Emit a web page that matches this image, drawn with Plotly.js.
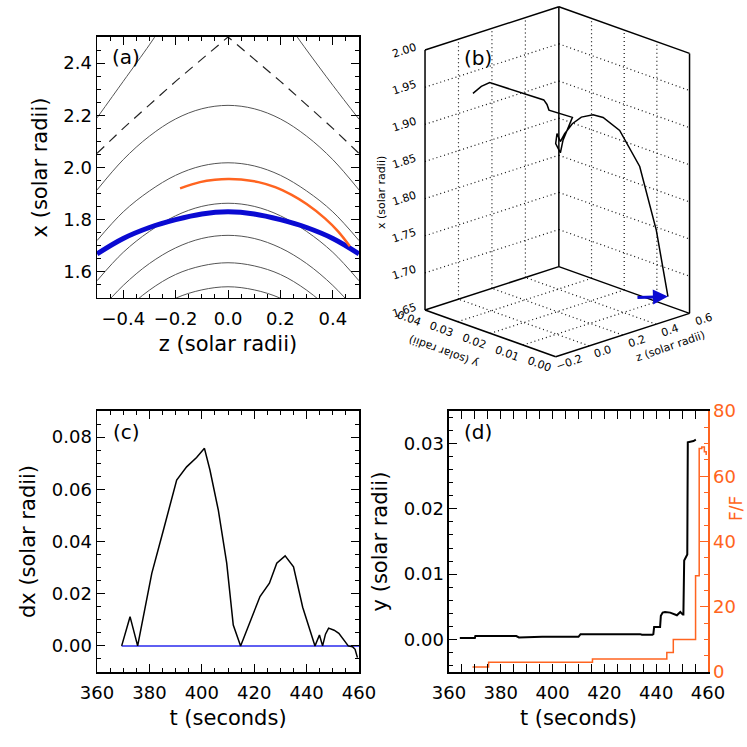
<!DOCTYPE html>
<html>
<head>
<meta charset="utf-8">
<script src="https://cdn.plot.ly/plotly-3.0.1.min.js"></script>
<style>
  html, body { margin: 0; padding: 0; background: #fff; }
  #plot { width: 747px; height: 747px; }
</style>
</head>
<body>
<div id="plot"></div>
<script>
// colours
var cOrange = '#ff6420';
var cBlue = '#0a0ad2';
var cLine = '#555555';

// ---- panel (a): field lines in the z-x plane ----
var zGrid = [-0.5, -0.4, -0.3, -0.2, -0.1, 0.0, 0.1, 0.2, 0.3, 0.4, 0.5];
var fieldA = [1.914, 2.03, 2.12, 2.186, 2.225, 2.238, 2.225, 2.186, 2.12, 2.03, 1.914];
var fieldB = [1.72, 1.83, 1.91, 1.97, 2.006, 2.018, 2.006, 1.97, 1.91, 1.83, 1.72];
var fieldC = [1.566, 1.675, 1.755, 1.815, 1.851, 1.863, 1.851, 1.815, 1.755, 1.675, 1.566];
var fieldD = [1.44, 1.548, 1.632, 1.692, 1.728, 1.74, 1.728, 1.692, 1.632, 1.548, 1.44];
var fieldE = [1.34, 1.445, 1.53, 1.59, 1.623, 1.635, 1.623, 1.59, 1.53, 1.445, 1.34];
var fieldF = [1.25, 1.35, 1.44, 1.499, 1.531, 1.543, 1.531, 1.499, 1.44, 1.35, 1.25];
var dashX = [2.054, 2.15, 2.24, 2.33, 2.415, 2.5, 2.415, 2.33, 2.24, 2.15, 2.054];
var sepLeftZ = [-0.5, -0.4, -0.3, -0.26];
var sepLeftX = [2.19, 2.33, 2.47, 2.53];
var sepRightZ = [0.25, 0.3, 0.4, 0.5];
var sepRightX = [2.52, 2.45, 2.315, 2.185];
var blueX = [1.669, 1.728, 1.77, 1.80, 1.822, 1.83, 1.822, 1.80, 1.77, 1.728, 1.669];
var orangeZ = [-0.183, -0.107, -0.05, 0.0, 0.05, 0.116, 0.18, 0.243, 0.3, 0.37, 0.42, 0.465];
var orangeX = [1.92, 1.944, 1.953, 1.956, 1.954, 1.944, 1.925, 1.895, 1.86, 1.805, 1.755, 1.698];

// ---- panel (b): 3D path (z, y, x in solar radii) ----
var pathZ = [0.471, 0.411, 0.312, 0.194, 0.099, 0.039, -0.031, -0.085, -0.131, -0.135, -0.122, -0.122, -0.090, -0.082, -0.022, -0.006, -0.008, 0.002, -0.003, -0.049, -0.097];
var pathY = [0, 0.0005, 0.0005, 0.0006, 0.0008, 0.0008, 0.0008, 0.0008, 0.0008, 0.0019, 0.0036, 0.004, 0.0042, 0.0038, 0.004, 0.012, 0.0125, 0.014, 0.0303, 0.0305, 0.0306];
var pathX = [1.682, 1.775, 1.868, 1.925, 1.949, 1.957, 1.959, 1.954, 1.944, 1.932, 1.939, 1.925, 1.910, 1.927, 1.953, 1.949, 1.956, 1.959, 1.957, 1.955, 1.949];
var zTicks3 = [-0.2, 0.0, 0.2, 0.4, 0.6];
var yTicks3 = [0.00, 0.01, 0.02, 0.03, 0.04];
var xTicks3 = [1.65, 1.70, 1.75, 1.80, 1.85, 1.90, 1.95, 2.00];

// ---- panel (c): dx vs time ----
var tC = [369.4, 372.6, 375.5, 380.9, 385.5, 390.4, 394.2, 398, 401, 403.1, 406.3, 409.5, 412, 414.8, 422.2, 425.8, 428.6, 431.8, 435, 438.5, 443.2, 444.9, 446.1, 447.2, 448.4, 450.5, 452.3, 454, 455.9, 457.5, 458.5, 459.4];
var dxC = [0, 0.0112, 0, 0.0278, 0.045, 0.0635, 0.0686, 0.0722, 0.0757, 0.0674, 0.052, 0.0317, 0.008, 0, 0.0189, 0.024, 0.0317, 0.0345, 0.0303, 0.0148, 0, 0.0042, 0, 0.0045, 0.0068, 0.006, 0.0048, 0.0023, 0, -0.0003, -0.0013, -0.0045];
var tZero = [369.4, 460];
var dxZero = [0, 0];

// ---- panel (d): y and F vs time ----
var tY = [364.2, 370, 370.2, 386, 387, 396, 410, 410.8, 433.8, 434.5, 438.5, 438.9, 439.2, 441.5, 441.8, 442.5, 443.4, 445.4, 448, 449.3, 450.3, 450.5, 450.8, 451.6, 452, 452.2, 454.4, 455.3];
var yY = [0.0002, 0.0002, 0.0005, 0.0005, 0.0003, 0.0004, 0.0004, 0.0008, 0.0008, 0.0007, 0.0007, 0.0008, 0.0019, 0.0019, 0.0036, 0.0041, 0.0042, 0.0041, 0.0037, 0.0042, 0.0038, 0.0038, 0.0121, 0.0129, 0.0130, 0.0302, 0.0304, 0.0306];
var tF = [369.1, 375.3, 415.4, 444.1, 446.6, 455.2, 456.6, 457.6, 458.6, 459.3];
var fF = [1.5, 3, 4, 6, 10, 29.5, 68.5, 69, 67.5, 66.5];

// oblique projection of panel (b) onto a pixel-unit 2D axis
function proj(z, y, x) {
  return [555.7 + 167.3 * (z + 0.2) - 3267 * y,
          356.7 - 54.2 * (z + 0.2) - 1167 * y - 742.7 * (x - 1.65)];
}
function segTrace(segs, line) {
  var xs = [], ys = [];
  segs.forEach(function (s) {
    var a = proj(s[0], s[1], s[2]), b = proj(s[3], s[4], s[5]);
    xs.push(a[0], b[0], null); ys.push(a[1], b[1], null);
  });
  return {x: xs, y: ys, xaxis: 'x4', yaxis: 'y5', type: 'scatter', mode: 'lines', line: line, hoverinfo: 'skip'};
}

var zMin = zTicks3[0], zMax = zTicks3[zTicks3.length - 1];
var yMin = yTicks3[0], yMax = yTicks3[yTicks3.length - 1];
var xMin = xTicks3[0], xMax = xTicks3[xTicks3.length - 1];

var boxSegs = [
  [zMin, yMax, xMin, zMin, yMax, xMax], [zMax, yMax, xMin, zMax, yMax, xMax], [zMax, yMin, xMin, zMax, yMin, xMax],
  [zMin, yMax, xMax, zMax, yMax, xMax], [zMax, yMax, xMax, zMax, yMin, xMax],
  [zMin, yMin, xMin, zMax, yMin, xMin], [zMin, yMin, xMin, zMin, yMax, xMin],
  [zMin, yMax, xMin, zMax, yMax, xMin], [zMax, yMin, xMin, zMax, yMax, xMin]
];
var gridSegs = [];
zTicks3.slice(1, -1).forEach(function (z) {
  gridSegs.push([z, yMax, xMin, z, yMax, xMax]);
  gridSegs.push([z, yMin, xMin, z, yMax, xMin]);
});
yTicks3.slice(1, -1).forEach(function (y) {
  gridSegs.push([zMax, y, xMin, zMax, y, xMax]);
  gridSegs.push([zMin, y, xMin, zMax, y, xMin]);
});
xTicks3.slice(1, -1).forEach(function (x) {
  gridSegs.push([zMin, yMax, x, zMax, yMax, x]);
  gridSegs.push([zMax, yMax, x, zMax, yMin, x]);
});

var pathS = pathZ.map(function (z, i) { return proj(z, pathY[i], pathX[i]); });

function fieldTrace(xs, ys, extra) {
  var t = {x: xs, y: ys, xaxis: 'x', yaxis: 'y', type: 'scatter', mode: 'lines',
    line: {color: cLine, width: 1, shape: 'spline'}, hoverinfo: 'skip'};
  for (var k in extra) t[k] = extra[k];
  return t;
}

var data = [
  fieldTrace(zGrid, fieldA), fieldTrace(zGrid, fieldB), fieldTrace(zGrid, fieldC),
  fieldTrace(zGrid, fieldD), fieldTrace(zGrid, fieldE), fieldTrace(zGrid, fieldF),
  fieldTrace(zGrid, dashX, {line: {color: '#222', width: 1.2, dash: '10px,7px'}}),
  fieldTrace(sepLeftZ, sepLeftX), fieldTrace(sepRightZ, sepRightX),
  fieldTrace(zGrid, blueX, {line: {color: cBlue, width: 5, shape: 'spline'}}),
  fieldTrace(orangeZ, orangeX, {line: {color: cOrange, width: 2.5, shape: 'spline'}}),
  segTrace(gridSegs, {color: '#111', width: 1.2, dash: '1px,3px'}),
  segTrace(boxSegs, {color: 'black', width: 1.5}),
  {x: pathS.map(function (p) { return p[0]; }), y: pathS.map(function (p) { return p[1]; }),
    xaxis: 'x4', yaxis: 'y5', type: 'scatter', mode: 'lines', line: {color: 'black', width: 1.5}},
  {x: tZero, y: dxZero, xaxis: 'x2', yaxis: 'y2', type: 'scatter', mode: 'lines',
    line: {color: '#2a2aee', width: 1.5}},
  {x: tC, y: dxC, xaxis: 'x2', yaxis: 'y2', type: 'scatter', mode: 'lines',
    line: {color: 'black', width: 1.5}},
  {x: tF, y: fF, xaxis: 'x3', yaxis: 'y4', type: 'scatter', mode: 'lines',
    line: {color: cOrange, width: 1.5, shape: 'hv'}},
  {x: tY, y: yY, xaxis: 'x3', yaxis: 'y3', type: 'scatter', mode: 'lines',
    line: {color: 'black', width: 2}}
];

function ax(extra) {
  var a = {showline: true, linecolor: 'black', linewidth: 1.5, mirror: 'allticks',
    ticks: 'inside', ticklen: 8, tickwidth: 1, tickcolor: 'black',
    showgrid: false, zeroline: false, tickfont: {size: 18}};
  for (var k in extra) a[k] = extra[k];
  return a;
}
function minor(d, c) { return {ticks: 'inside', ticklen: 4, dtick: d, tickcolor: c || 'black'}; }

var titleFont = {size: 21};
var dom = {a: [0.1299, 0.4806], right: [0.601, 0.9478], top: [0.6011, 0.9505], bot: [0.1004, 0.4498]};

// annotations: panel letters, right-axis title and the labels of the oblique box
var notes = [
  {xref: 'paper', yref: 'paper', x: 0.1687, y: 0.9237, text: '(a)'},
  {xref: 'paper', yref: 'paper', x: 0.64, y: 0.922, text: '(b)'},
  {xref: 'paper', yref: 'paper', x: 0.1687, y: 0.4217, text: '(c)'},
  {xref: 'paper', yref: 'paper', x: 0.64, y: 0.4217, text: '(d)'}
].map(function (n) {
  n.showarrow = false; n.xanchor = 'center'; n.yanchor = 'middle'; n.font = {size: 20}; return n;
});
notes.push({xref: 'paper', yref: 'paper', x: 736 / 747, y: 1 - 509 / 747, text: 'F/F', showarrow: false,
  xanchor: 'center', yanchor: 'middle', textangle: -90, font: {size: 17, color: cOrange}});
var f3 = {size: 11, color: 'black'};
xTicks3.forEach(function (v) {
  var p = proj(zMin, yMax, v);
  notes.push({xref: 'x4', yref: 'y5', x: p[0] - 4, y: p[1], text: v.toFixed(2), showarrow: false,
    xanchor: 'right', yanchor: 'middle', textangle: -18, font: f3});
});
yTicks3.forEach(function (v) {
  var p = proj(zMin, v, xMin);
  notes.push({xref: 'x4', yref: 'y5', x: p[0] - 16, y: p[1] + 8, text: v.toFixed(2), showarrow: false,
    xanchor: 'center', yanchor: 'middle', textangle: 20, font: f3});
});
zTicks3.forEach(function (v) {
  var p = proj(v, yMin, xMin);
  notes.push({xref: 'x4', yref: 'y5', x: p[0] + 14, y: p[1] + 6, text: v.toFixed(1).replace('-', '\u2212'),
    showarrow: false, xanchor: 'center', yanchor: 'middle', textangle: -19, font: f3});
});
notes.push({xref: 'x4', yref: 'y5', x: 381, y: 193, text: 'x (solar radii)', showarrow: false,
  textangle: -90, font: f3});
notes.push({xref: 'x4', yref: 'y5', x: 444, y: 352, text: 'y (solar radii)', showarrow: false,
  textangle: -160, font: f3});
notes.push({xref: 'x4', yref: 'y5', x: 670, y: 346, text: 'z (solar radii)', showarrow: false,
  textangle: -19, font: f3});
notes.push({xref: 'x4', yref: 'y5', x: pathS[0][0], y: pathS[0][1], text: '', showarrow: true,
  ax: -32, ay: 1, arrowcolor: cBlue, arrowwidth: 3, arrowhead: 2, arrowsize: 1});

var layout = {
  width: 747, height: 747,
  margin: {l: 0, r: 0, t: 0, b: 0},
  showlegend: false,
  paper_bgcolor: 'white', plot_bgcolor: 'rgba(0,0,0,0)',
  font: {family: 'DejaVu Sans', size: 18, color: 'black'},
  xaxis: ax({domain: dom.a, anchor: 'y', range: [-0.5, 0.5], dtick: 0.2, tick0: 0, tickformat: '.1f',
    minor: minor(0.05), ticklabelstandoff: 4,
    title: {text: 'z (solar radii)', font: titleFont, standoff: 8}}),
  yaxis: ax({domain: dom.top, anchor: 'x', range: [1.5, 2.5], dtick: 0.2, tick0: 0, tickformat: '.1f',
    minor: minor(0.05), title: {text: 'x (solar radii)', font: titleFont, standoff: 10}}),
  xaxis2: ax({domain: dom.a, anchor: 'y2', range: [360, 460], dtick: 20, minor: minor(5),
    ticklabelstandoff: 4, title: {text: 't (seconds)', font: titleFont, standoff: 8}}),
  yaxis2: ax({domain: dom.bot, anchor: 'x2', range: [-0.01, 0.09], dtick: 0.02, tick0: 0, tickformat: '.2f',
    minor: minor(0.005), title: {text: 'dx (solar radii)', font: titleFont, standoff: 10}}),
  xaxis3: ax({domain: dom.right, anchor: 'y3', range: [360, 460], dtick: 20, minor: minor(5),
    ticklabelstandoff: 4, title: {text: 't (seconds)', font: titleFont, standoff: 8}}),
  yaxis3: ax({domain: dom.bot, anchor: 'x3', range: [-0.005, 0.035], dtick: 0.01, tick0: 0, tickformat: '.2f',
    mirror: false, minor: minor(0.002),
    title: {text: 'y (solar radii)', font: titleFont, standoff: 10}}),
  yaxis4: {overlaying: 'y3', anchor: 'x3', side: 'right', range: [0, 80], dtick: 20,
    showline: true, linecolor: cOrange, linewidth: 1.5, ticks: 'inside', ticklen: 8,
    tickcolor: cOrange, showgrid: false, zeroline: false,
    tickfont: {size: 18, color: cOrange}, minor: minor(5, cOrange)},
  xaxis4: {domain: [0.5, 1], range: [373.5, 747], visible: false, anchor: 'y5'},
  yaxis5: {domain: [1 - 380 / 747, 1], range: [380, 0], visible: false, anchor: 'x4'},
  annotations: notes
};

Plotly.newPlot('plot', data, layout, {displayModeBar: false, staticPlot: true});
</script>
</body>
</html>
